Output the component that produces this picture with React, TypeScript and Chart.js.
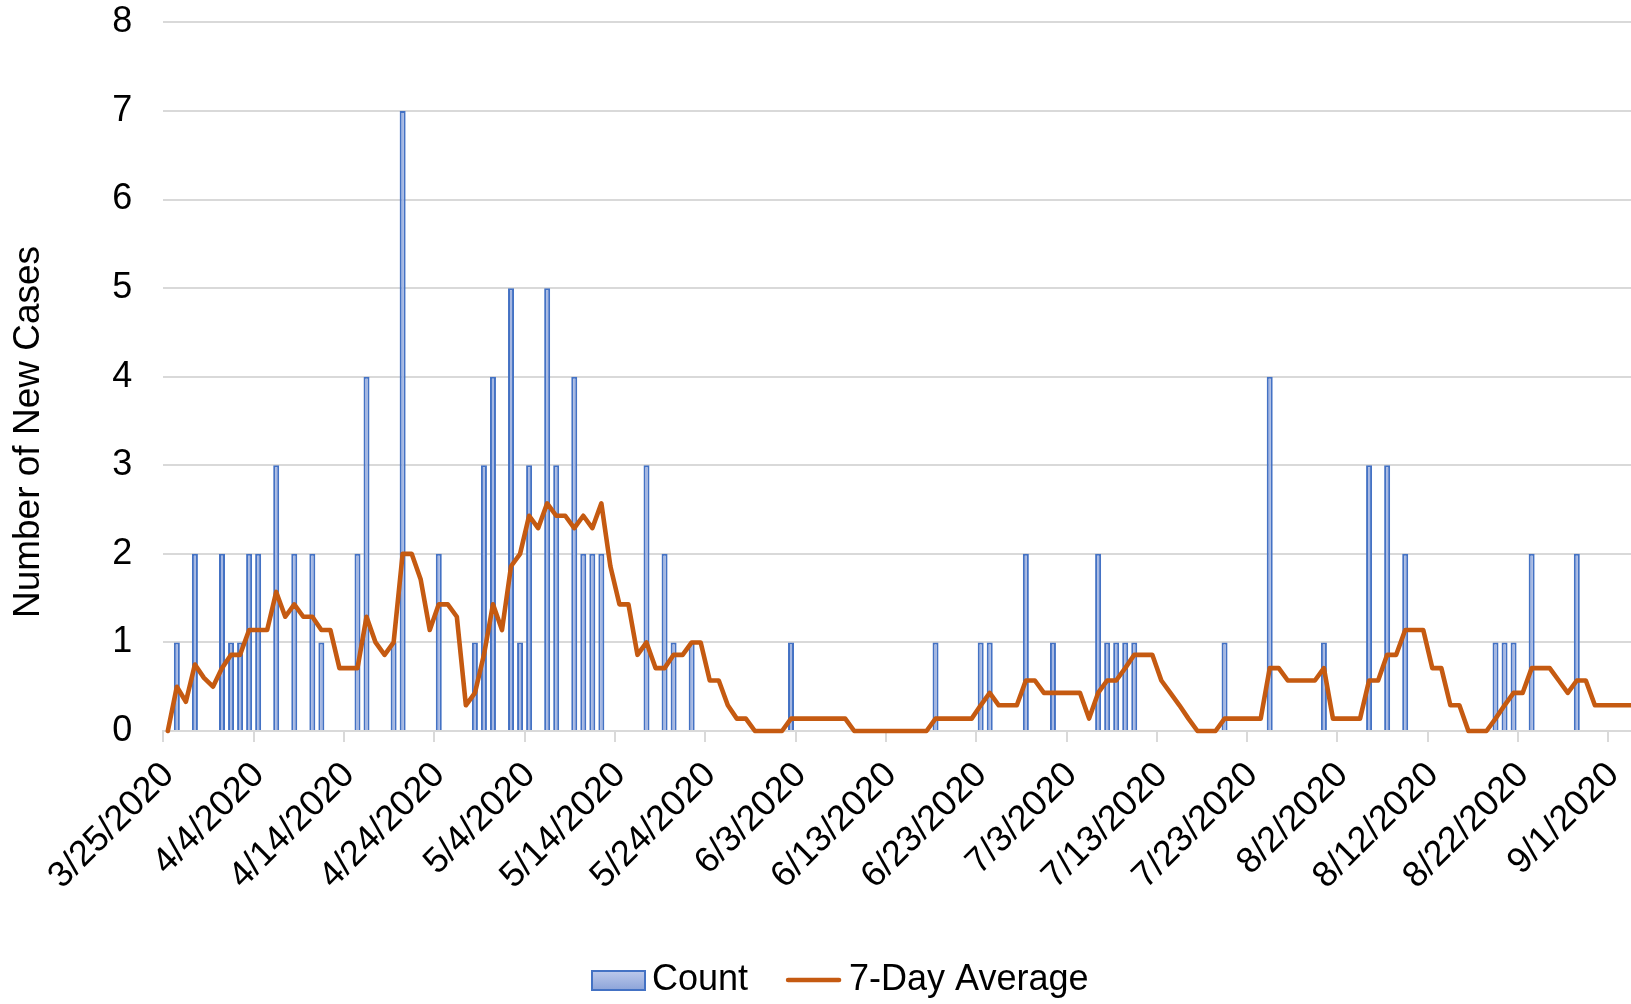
import React, { useEffect, useRef } from 'react';
import { Chart, registerables } from 'chart.js';

Chart.register(...registerables);

// Tick labels shown every 10 days on the date axis
const tickLabels = [
  '3/25/2020', '4/4/2020', '4/14/2020', '4/24/2020', '5/4/2020', '5/14/2020',
  '5/24/2020', '6/3/2020', '6/13/2020', '6/23/2020', '7/3/2020', '7/13/2020',
  '7/23/2020', '8/2/2020', '8/12/2020', '8/22/2020', '9/1/2020',
];

// Daily new cases, one value per day starting 3/25/2020
const counts = [
  0, 1, 0, 2, 0, 0, 2, 1, 1, 2,
  2, 0, 3, 0, 2, 0, 2, 1, 0, 0,
  0, 2, 4, 0, 0, 1, 7, 0, 0, 0,
  2, 0, 0, 0, 1, 3, 4, 0, 5, 1,
  3, 0, 5, 3, 0, 4, 2, 2, 2, 0,
  0, 0, 0, 3, 0, 2, 1, 0, 1, 0,
  0, 0, 0, 0, 0, 0, 0, 0, 0, 1,
  0, 0, 0, 0, 0, 0, 0, 0, 0, 0,
  0, 0, 0, 0, 0, 1, 0, 0, 0, 0,
  1, 1, 0, 0, 0, 2, 0, 0, 1, 0,
  0, 0, 0, 2, 1, 1, 1, 1, 0, 0,
  0, 0, 0, 0, 0, 0, 0, 1, 0, 0,
  0, 0, 4, 0, 0, 0, 0, 0, 1, 0,
  0, 0, 0, 3, 0, 3, 0, 2, 0, 0,
  0, 0, 0, 0, 0, 0, 0, 1, 1, 1,
  0, 2, 0, 0, 0, 0, 2, 0, 0, 0,
  0, 0, 0, 0,
];

// 7-day average line, one value per day starting 3/25/2020
const sevenDayAverage = [
  0, 0.5, 0.33, 0.75, 0.6, 0.5, 0.71, 0.86, 0.86, 1.14,
  1.14, 1.14, 1.57, 1.29, 1.43, 1.29, 1.29, 1.14, 1.14, 0.71,
  0.71, 0.71, 1.29, 1, 0.86, 1, 2, 2, 1.71, 1.14,
  1.43, 1.43, 1.29, 0.29, 0.43, 0.86, 1.43, 1.14, 1.86, 2,
  2.43, 2.29, 2.57, 2.43, 2.43, 2.29, 2.43, 2.29, 2.57, 1.86,
  1.43, 1.43, 0.86, 1, 0.71, 0.71, 0.86, 0.86, 1, 1,
  0.57, 0.57, 0.29, 0.14, 0.14, 0, 0, 0, 0, 0.14,
  0.14, 0.14, 0.14, 0.14, 0.14, 0.14, 0, 0, 0, 0,
  0, 0, 0, 0, 0, 0.14, 0.14, 0.14, 0.14, 0.14,
  0.29, 0.43, 0.29, 0.29, 0.29, 0.57, 0.57, 0.43, 0.43, 0.43,
  0.43, 0.43, 0.14, 0.43, 0.57, 0.57, 0.71, 0.86, 0.86, 0.86,
  0.57, 0.43, 0.29, 0.14, 0, 0, 0, 0.14, 0.14, 0.14,
  0.14, 0.14, 0.71, 0.71, 0.57, 0.57, 0.57, 0.57, 0.71, 0.14,
  0.14, 0.14, 0.14, 0.57, 0.57, 0.86, 0.86, 1.14, 1.14, 1.14,
  0.71, 0.71, 0.29, 0.29, 0, 0, 0, 0.14, 0.29, 0.43,
  0.43, 0.71, 0.71, 0.71, 0.57, 0.43, 0.57, 0.57, 0.29, 0.29,
  0.29, 0.29, 0.29, 0,
];

const yAxisTitle = 'Number of New Cases';
const countLabel = 'Count';
const averageLabel = '7-Day Average';

const FONT = "'Liberation Sans', Arial, Helvetica, sans-serif";
const BLUE = '#4472C4';
const BAR_FILL = '#A5B7E2';
const ORANGE = '#C55A11';
const GRID = '#D9D9D9';

export default function App() {
  const canvasRef = useRef<HTMLCanvasElement | null>(null);

  useEffect(() => {
    document.body.style.margin = '0';
    document.body.style.overflow = 'hidden';
    document.body.style.background = '#ffffff';
    const canvas = canvasRef.current;
    if (!canvas) return;

    const decor = {
      id: 'decor',
      afterDraw(chart: any) {
        const c = chart.ctx as CanvasRenderingContext2D;
        c.save();
        c.fillStyle = '#000000';

        // Y axis title
        c.save();
        c.font = `37px ${FONT}`;
        c.translate(29, 432);
        c.rotate(-Math.PI / 2);
        c.textAlign = 'center';
        c.textBaseline = 'middle';
        c.fillText(yAxisTitle, 0, 0);
        c.restore();

        // Legend
        c.font = `36px ${FONT}`;
        const cy = 980;
        let x = 592;
        const grad = c.createLinearGradient(0, cy - 9, 0, cy + 10);
        grad.addColorStop(0, '#BCC9EB');
        grad.addColorStop(1, '#8DA4D9');
        c.fillStyle = grad;
        c.fillRect(x, cy - 9, 53, 19);
        c.strokeStyle = BLUE;
        c.lineWidth = 2;
        c.strokeRect(x, cy - 9, 53, 19);
        x += 53 + 7;
        c.fillStyle = '#000000';
        c.textAlign = 'left';
        c.textBaseline = 'middle';
        c.fillText(chart.data.datasets[1].label, x, cy);
        x += c.measureText(chart.data.datasets[1].label).width + 38;
        c.strokeStyle = ORANGE;
        c.lineWidth = 4.5;
        c.lineCap = 'round';
        c.beginPath();
        c.moveTo(x + 2, cy);
        c.lineTo(x + 53, cy);
        c.stroke();
        x += 55 + 8;
        c.fillText(chart.data.datasets[0].label, x, cy);
        c.restore();
      },
    };

    const chart = new Chart(canvas, {
      type: 'bar',
      data: {
        datasets: [
          {
            type: 'line',
            label: averageLabel,
            data: sevenDayAverage.map((v, i) => ({ x: i, y: v })),
            borderColor: ORANGE,
            backgroundColor: ORANGE,
            borderWidth: 4.6,
            pointRadius: 0,
            pointHoverRadius: 0,
            tension: 0,
            borderJoinStyle: 'round',
            borderCapStyle: 'round',
            clip: { left: 0, right: 0, top: 6, bottom: 6 },
            order: 0,
          } as any,
          {
            type: 'bar',
            label: countLabel,
            data: counts.map((v, i) => ({ x: i, y: v })),
            backgroundColor: BAR_FILL,
            borderColor: BLUE,
            borderWidth: 2,
            barPercentage: 0.665,
            categoryPercentage: 1,
            order: 1,
          } as any,
        ],
      },
      options: {
        animation: false,
        responsive: true,
        maintainAspectRatio: false,
        events: [],
        layout: { padding: { top: 22.4, left: 0, right: 0, bottom: 0 } },
        plugins: {
          legend: { display: false },
          tooltip: { enabled: false },
          title: { display: false },
        },
        scales: {
          x: {
            type: 'linear',
            min: -0.5,
            max: 162,
            offset: false,
            afterBuildTicks: (s: any) => {
              s.ticks = tickLabels.map((_, i) => ({ value: -0.5 + 10 * i }));
            },
            afterFit: (s: any) => {
              s.height = 273;
              s.paddingLeft = 0;
              s.paddingRight = 0;
            },
            grid: {
              display: true,
              drawOnChartArea: false,
              drawTicks: true,
              tickLength: 11,
              color: GRID,
              lineWidth: 2,
              offset: false,
            },
            border: { display: true, color: GRID, width: 2 },
            ticks: {
              autoSkip: false,
              maxRotation: 45,
              minRotation: 45,
              padding: 12,
              labelOffset: 5,
              color: '#000000',
              font: { family: FONT, size: 36 },
              callback: (_v: any, i: number) => tickLabels[i],
            },
          } as any,
          y: {
            min: 0,
            max: 8,
            afterFit: (s: any) => {
              s.width = 163.3;
              s.paddingTop = 0;
              s.paddingBottom = 0;
            },
            ticks: {
              stepSize: 1,
              padding: 31,
              color: '#000000',
              font: { family: FONT, size: 36 },
            },
            grid: { color: GRID, lineWidth: 2, drawTicks: false },
            border: { display: false },
          } as any,
        },
      },
      plugins: [decor],
    });

    return () => chart.destroy();
  }, []);

  return (
    <div style={{ position: 'relative', width: 1631, height: 1004 }}>
      <canvas ref={canvasRef} />
    </div>
  );
}
